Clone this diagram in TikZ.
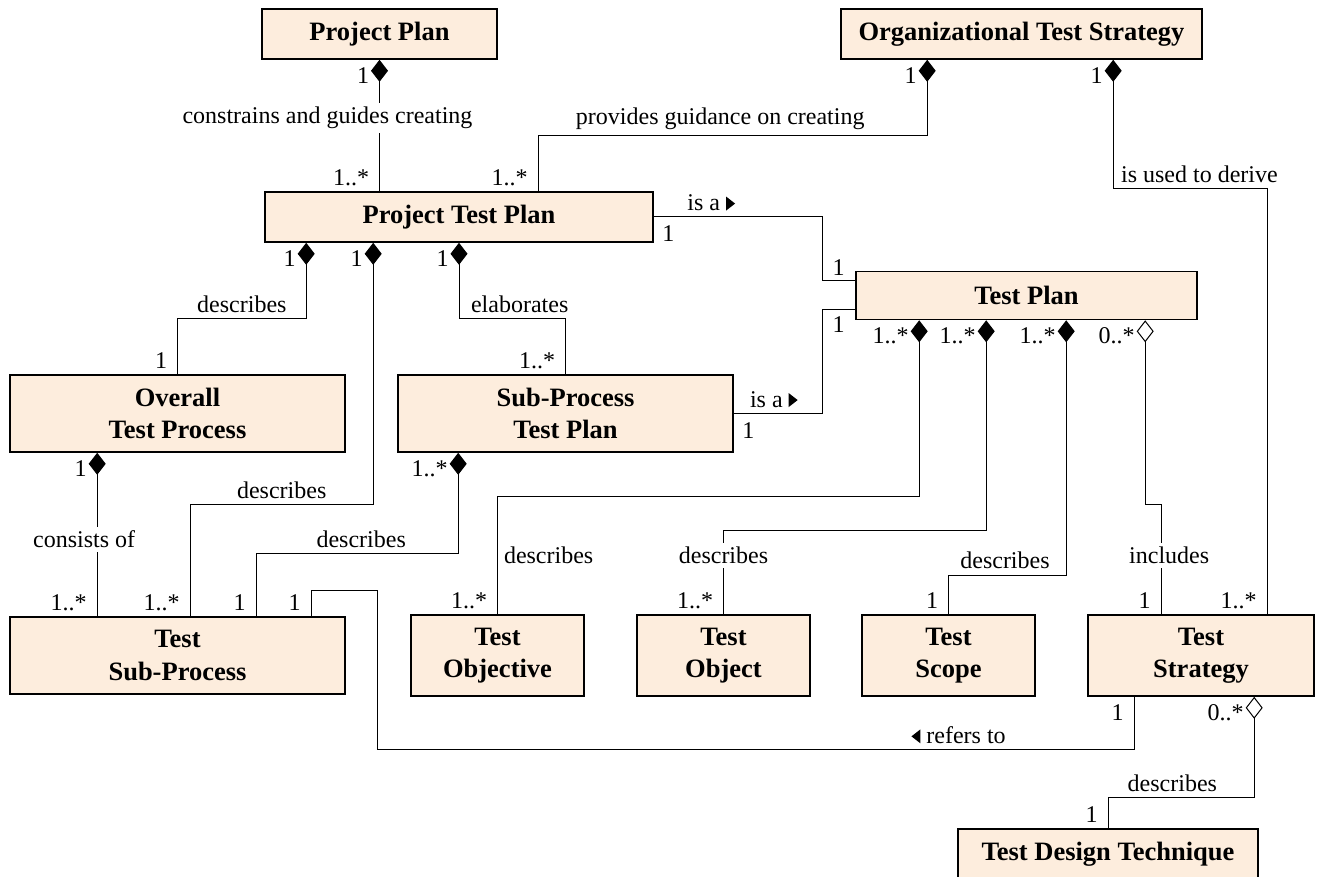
\documentclass[tikz,border=0pt]{standalone}
\usepackage{fontspec}
\setmainfont{Liberation Serif}
\usetikzlibrary{arrows.meta}
\definecolor{boxfill}{RGB}{253,237,221}
\newcommand\lblfont{\fontsize{24}{29}\selectfont}
\newcommand\boxfont{\fontsize{26.5}{32.3}\selectfont\bfseries}
\newcommand\tright{\tikz[baseline=0pt]\fill (0pt,0pt) -- (0pt,14pt) -- (9pt,7pt) -- cycle;}
\newcommand\tleft{\tikz[baseline=0pt]\fill (9pt,0pt) -- (9pt,14pt) -- (0pt,7pt) -- cycle;}
\tikzset{
  box/.style={draw=black, line width=1.6pt, fill=boxfill, font=\boxfont, align=center, inner sep=0pt},
  assoc/.style={line width=1pt},
  comp/.style={assoc, arrows={Diamond[length=22pt,width=17pt]-}},
  aggr/.style={assoc, arrows={Diamond[open,length=22pt,width=17pt]-}},
  mult/.style={font=\lblfont, inner sep=0pt, text height=16pt, text depth=0pt},
  multBL/.style={mult, anchor=north east, xshift=-10pt, yshift=-7pt},
  multAL/.style={mult, anchor=south east, xshift=-10pt, yshift=5pt},
  multBR/.style={mult, anchor=north west, xshift=8pt, yshift=-8pt},
  lbl/.style={font=\lblfont, inner sep=6pt},
  onlbl/.style={lbl, fill=white, inner sep=4pt}
}
\begin{document}
\begin{tikzpicture}[x=1pt,y=-1pt]
  \useasboundingbox (0,0) rectangle (1318,877);
  \node[box, minimum width=235pt, minimum height=50pt] (pp) at (379.5,34) {Project Plan};
  \node[box, minimum width=361pt, minimum height=50pt] (ots) at (1021.5,34) {Organizational Test Strategy};
  \node[box, minimum width=388pt, minimum height=50pt] (ptp) at (459,217) {Project Test Plan};
  \node[box, minimum width=341pt, minimum height=48pt] (tp) at (1026.5,295.5) {Test Plan};
  \node[box, minimum width=335pt, minimum height=77pt] (otp) at (177.5,413.5) {Overall\\Test Process};
  \node[box, minimum width=335pt, minimum height=77pt] (sptp) at (565.5,413.5) {Sub-Process\\Test Plan};
  \node[box, minimum width=335pt, minimum height=77pt] (tsp) at (177.5,655.5) {Test\\Sub-Process};
  \node[box, minimum width=173pt, minimum height=81pt] (tobjv) at (497.5,655.5) {Test\\Objective};
  \node[box, minimum width=173pt, minimum height=81pt] (tobj) at (723.5,655.5) {Test\\Object};
  \node[box, minimum width=173pt, minimum height=81pt] (tscope) at (948.5,655.5) {Test\\Scope};
  \node[box, minimum width=226pt, minimum height=81pt] (tstrat) at (1201,655.5) {Test\\Strategy};
  \node[box, minimum width=300pt, minimum height=50pt] (tdt) at (1108,854) {Test Design Technique};

  \draw[comp] (pp.south) -- node[multBL,pos=0]{1} node[onlbl,pos=.44,xshift=-52pt]{constrains and guides creating} node[multAL,pos=1]{1..*} (pp.south |- ptp.north);
  \draw[comp] ([xshift=87pt]ots.south west) -- node[multBL,pos=0]{1} ++(0,76) -| node[lbl,above,pos=.266]{provides guidance on creating} node[multAL,pos=1]{1..*} ([xshift=274pt]ptp.north west);
  \draw[comp] ([xshift=273pt]ots.south west) -- node[multBL,pos=0]{1} ++(0,129) -| node[lbl,above,pos=.28]{is used to derive} node[multAL,pos=1]{1..*} ([xshift=180pt]tstrat.north west);
  \draw[assoc] (ptp.east) -- node[multBR,pos=0]{1} node[lbl,above,pos=.34]{is a \tright} ++(169,0) |- node[multAL,pos=1]{1} ([yshift=-10pt]tp.north west);
  \draw[assoc] (sptp.east) -- node[multBR,pos=0]{1} node[lbl,above,pos=.45]{is a \tright} ++(89,0) |- node[multBL,pos=1]{1} ([yshift=11pt]tp.south west);
  \draw[comp] ([xshift=42pt]ptp.south west) -- node[multBL,pos=0]{1} ++(0,76) -| node[lbl,above,pos=.25]{describes} node[multAL,pos=1]{1} (otp.north);
  \draw[comp] ([xshift=109pt]ptp.south west) -- node[multBL,pos=0]{1} ++(0,262) -| node[lbl,above,pos=.25]{describes} node[multAL,pos=1]{1..*} ([xshift=181pt]tsp.north west);
  \draw[comp] (ptp.south) -- node[multBL,pos=0]{1} ++(0,76) -| node[lbl,above,pos=.285]{elaborates} node[multAL,pos=1]{1..*} (sptp.north);
  \draw[comp] ([xshift=88pt]otp.south west) -- node[multBL,pos=0]{1} node[onlbl,pos=.53,xshift=-13pt]{consists of} node[multAL,pos=1]{1..*} ([xshift=88pt]tsp.north west);
  \draw[comp] ([xshift=61pt]sptp.south west) -- node[multBL,pos=0]{1..*} ++(0,101) -| node[lbl,above,pos=.24]{describes} node[multAL,pos=1]{1} ([xshift=247pt]tsp.north west);
  \draw[assoc] ([xshift=47pt]tstrat.south west) -- node[multBL,pos=0]{1} ++(0,53) -| node[lbl,above,pos=.116]{\tleft{} refers to} ++(-757,-159) -| node[multAL,pos=1]{1} ([xshift=302pt]tsp.north west);
  \draw[comp] ([xshift=64pt]tp.south west) -- node[multBL,pos=0]{1..*} ++(0,176) -| node[lbl,right,pos=.75]{describes} node[multAL,pos=1]{1..*} (tobjv.north);
  \draw[comp] ([xshift=131pt]tp.south west) -- node[multBL,pos=0]{1..*} ++(0,210) -| node[onlbl,pos=.65]{describes} node[multAL,pos=1]{1..*} (tobj.north);
  \draw[comp] ([xshift=211pt]tp.south west) -- node[multBL,pos=0]{1..*} ++(0,255) -| node[lbl,above,pos=.26]{describes} node[multAL,pos=1]{1} (tscope.north);
  \draw[aggr] ([xshift=290pt]tp.south west) -- node[multBL,pos=0]{0..*} ++(0,184) -| node[onlbl,pos=.733,xshift=8pt]{includes} node[multAL,pos=1]{1} ([xshift=74pt]tstrat.north west);
  \draw[aggr] ([xshift=167pt]tstrat.south west) -- node[multBL,pos=0]{0..*} ++(0,101) -| node[lbl,above,pos=.28]{describes} node[multAL,pos=1]{1} (tdt.north);
\end{tikzpicture}
\end{document}
